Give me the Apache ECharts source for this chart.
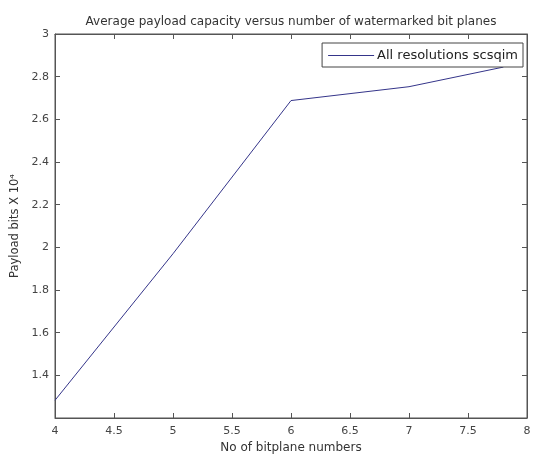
<!DOCTYPE html>
<html>
<head>
<meta charset="utf-8">
<script src="https://cdn.jsdelivr.net/npm/echarts@6/dist/echarts.min.js"></script>
<style>
html,body{margin:0;padding:0;background:#fff;}
#c{width:536px;height:459px;}
</style>
</head>
<body>
<div id="c"></div>
<script>
var xValues = [4, 5, 6, 7, 7.8];
var yValues = [1.283, 1.97, 2.688, 2.753, 2.845];
var seriesName = 'All resolutions scsqim';
var titleText = 'Average payload capacity versus number of watermarked bit planes';
var xName = 'No of bitplane numbers';
var yName = 'Payload bits X 10\u2074';

var chart = echarts.init(document.getElementById('c'));
var font = 'DejaVu Sans, Verdana, sans-serif';
var data = xValues.map(function (x, i) { return [x, yValues[i]]; });
chart.setOption({
  backgroundColor: '#fff',
  animation: false,
  title: {
    text: titleText, left: 286, top: 11, textAlign: 'center',
    textStyle: { fontFamily: font, fontSize: 12, fontWeight: 'normal', color: '#333' }
  },
  legend: {
    data: [{ name: seriesName, icon: 'rect' }], right: 13, top: 43,
    borderColor: '#444', borderWidth: 1, borderRadius: 0,
    padding: [6, 5, 5, 6], itemWidth: 46, itemHeight: 1, itemGap: 4,
    textStyle: { fontFamily: font, fontSize: 13, color: '#222', padding: [0, 0, 0, -2] },
    backgroundColor: '#fff'
  },
  grid: { left: 55, right: 9, top: 34, bottom: 40, show: true, borderColor: '#555', borderWidth: 1 },
  xAxis: [{
    type: 'value', min: 4, max: 8, interval: 0.5,
    name: xName, nameLocation: 'middle', nameGap: 24,
    nameTextStyle: { fontFamily: font, fontSize: 12, color: '#333' },
    axisLine: { lineStyle: { color: '#555' } },
    axisTick: { inside: true, length: 5, lineStyle: { color: '#555' } },
    axisLabel: { fontFamily: font, fontSize: 11, color: '#444', margin: 8 },
    splitLine: { show: false }
  }, {
    type: 'value', min: 4, max: 8, interval: 0.5, position: 'top',
    axisLine: { lineStyle: { color: '#555' } },
    axisTick: { inside: true, length: 5, lineStyle: { color: '#555' } },
    axisLabel: { show: false }, splitLine: { show: false }
  }],
  yAxis: [{
    type: 'value', min: 1.2, max: 3, interval: 0.2,
    name: yName, nameLocation: 'middle', nameGap: 34, nameRotate: 90,
    nameTextStyle: { fontFamily: font, fontSize: 11.5, color: '#333' },
    axisLine: { show: true, lineStyle: { color: '#555' } },
    axisTick: { show: true, inside: true, length: 5, lineStyle: { color: '#555' } },
    axisLabel: { fontFamily: font, fontSize: 11, color: '#444', margin: 6, showMinLabel: false,
      formatter: function (v) { return String(Math.round(v * 10) / 10); } },
    splitLine: { show: false }
  }, {
    type: 'value', min: 1.2, max: 3, interval: 0.2, position: 'right',
    axisLine: { show: true, lineStyle: { color: '#555' } },
    axisTick: { show: true, inside: true, length: 5, lineStyle: { color: '#555' } },
    axisLabel: { show: false }, splitLine: { show: false }
  }],
  series: [{
    name: seriesName, type: 'line', data: data, symbol: 'none',
    lineStyle: { color: '#35358a', width: 1 }, itemStyle: { color: '#35358a' }
  }]
});
</script>
</body>
</html>
